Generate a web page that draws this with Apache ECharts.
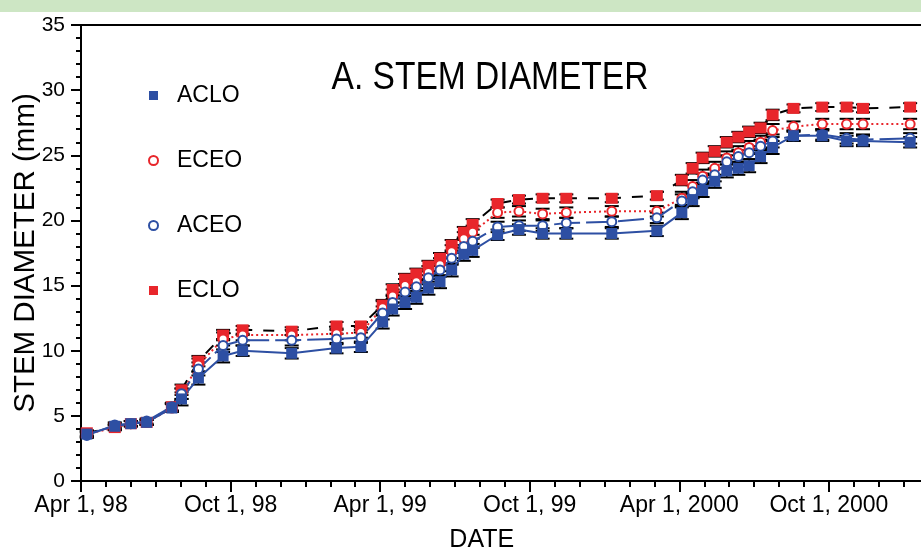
<!DOCTYPE html>
<html><head><meta charset="utf-8">
<script src="https://cdn.jsdelivr.net/npm/echarts@6/dist/echarts.min.js"></script>
<style>html,body{margin:0;padding:0;background:#fff}#c{width:921px;height:552px}</style>
</head><body><div id="c"></div>
<script>
// ---- data ----
const dates = ['1998-04-08','1998-05-12','1998-06-01','1998-06-20','1998-07-21','1998-08-02','1998-08-23','1998-09-22','1998-10-16','1998-12-15',
 '1999-02-08','1999-03-08','1999-04-04','1999-04-16','1999-05-01','1999-05-15','1999-05-30','1999-06-13','1999-06-27','1999-07-12',
 '1999-07-23','1999-08-23','1999-09-18','1999-10-17','1999-11-15','2000-01-10','2000-03-04','2000-04-04','2000-04-17','2000-04-29',
 '2000-05-14','2000-05-29','2000-06-12','2000-06-25','2000-07-09','2000-07-24','2000-08-19','2000-09-23','2000-10-23','2000-11-12','2001-01-09'];
const tickLabels = ['Apr 1, 98','Oct 1, 98','Apr 1, 99','Oct 1, 99','Apr 1, 2000','Oct 1, 2000'];
const seriesNames = ['ACLO','ECEO','ACEO','ECLO'];
const ECLO = [3.7,4.1,4.4,4.5,5.7,7.0,9.2,11.2,11.6,11.5, 11.9,11.9,13.5,14.7,15.5,15.9,16.5,17.1,18.1,19.1, 19.7,21.3,21.6,21.7,21.7,21.7,21.9,23.1,24.0,24.8, 25.3,26.0,26.4,26.8,27.1,28.1,28.6,28.7,28.7,28.6,28.7];
const ECEO = [3.6,4.1,4.4,4.5,5.6,6.7,8.9,10.9,11.2,11.2, 11.3,11.4,13.3,14.2,15.0,15.3,16.0,16.6,17.6,18.6, 19.1,20.6,20.7,20.5,20.6,20.7,20.7,21.7,22.6,23.4, 24.0,24.8,25.2,25.6,26.0,26.9,27.2,27.4,27.4,27.4,27.4];
const ACEO = [3.5,4.3,4.4,4.6,5.7,6.7,8.6,10.4,10.8,10.8, 10.9,11.0,12.9,13.7,14.5,14.9,15.6,16.2,17.1,18.0, 18.4,19.5,19.6,19.6,19.8,19.9,20.2,21.5,22.2,23.1, 23.5,24.5,24.9,25.2,25.7,26.1,26.5,26.6,26.3,26.2,26.3];
const ACLO = [3.6,4.2,4.4,4.5,5.6,6.3,7.9,9.6,10.0,9.8, 10.2,10.3,12.2,13.2,13.7,14.1,14.8,15.3,16.2,17.4, 17.7,18.9,19.3,19.0,19.0,19.0,19.2,20.6,21.6,22.3, 23.0,23.8,24.0,24.2,24.9,25.6,26.5,26.5,26.1,26.1,26.0];
const errECLO = [0.2,0.2,0.2,0.2,0.3,0.4,0.4,0.4,0.3,0.3, 0.3,0.3,0.4,0.4,0.4,0.4,0.4,0.4,0.4,0.4, 0.4,0.3,0.3,0.3,0.3,0.3,0.3,0.4,0.4,0.4, 0.4,0.4,0.4,0.4,0.4,0.4,0.3,0.3,0.3,0.3,0.3];
const errECEO = [0.2,0.2,0.2,0.2,0.3,0.4,0.5,0.5,0.4,0.4, 0.4,0.4,0.5,0.5,0.5,0.5,0.5,0.5,0.5,0.5, 0.5,0.4,0.4,0.4,0.4,0.4,0.4,0.5,0.5,0.5, 0.5,0.5,0.5,0.5,0.5,0.5,0.4,0.4,0.4,0.4,0.4];
const errACEO = [0.2,0.2,0.2,0.2,0.3,0.4,0.5,0.5,0.4,0.4, 0.4,0.4,0.5,0.5,0.5,0.5,0.5,0.5,0.5,0.5, 0.5,0.4,0.4,0.4,0.4,0.4,0.4,0.5,0.5,0.5, 0.5,0.5,0.5,0.5,0.5,0.5,0.4,0.4,0.4,0.4,0.4];
const errACLO = [0.2,0.2,0.2,0.2,0.3,0.5,0.5,0.5,0.4,0.4, 0.4,0.4,0.5,0.5,0.5,0.5,0.5,0.5,0.5,0.5, 0.5,0.4,0.4,0.4,0.4,0.4,0.4,0.5,0.5,0.5, 0.5,0.5,0.5,0.5,0.5,0.5,0.4,0.4,0.4,0.4,0.4];

// ---- helpers ----
function monthsSince(ds) { // months since Apr 1, 1998
  const [y, m, d] = ds.split('-').map(Number);
  const dim = new Date(y, m, 0).getDate();
  return (y - 1998) * 12 + (m - 4) + (d - 1) / dim;
}
const xs = dates.map(monthsSince);
const pts = arr => arr.map((v, i) => [xs[i], v]);
const bars = (arr, err) => arr.map((v, i) => [xs[i], v - err[i], v + err[i]]);

const RED = '#e8262b', BLUE = '#2d4fa3';
const FONT = "'Liberation Sans', Arial, sans-serif";

function errItem(params, api) {
  const x = api.value(0), lo = api.value(1), hi = api.value(2);
  const a = api.coord([x, lo]), b = api.coord([x, hi]);
  const w = 7;
  return { type: 'group', children: [
    { type: 'line', shape: { x1: a[0], y1: a[1], x2: b[0], y2: b[1] }, style: { stroke: '#000', lineWidth: 1.5 } },
    { type: 'line', shape: { x1: a[0] - w, y1: a[1], x2: a[0] + w, y2: a[1] }, style: { stroke: '#000', lineWidth: 2 } },
    { type: 'line', shape: { x1: b[0] - w, y1: b[1], x2: b[0] + w, y2: b[1] }, style: { stroke: '#000', lineWidth: 2 } }
  ]};
}
function errSeries(arr, err) {
  return { type: 'custom', renderItem: errItem, data: bars(arr, err), encode: { x: 0, y: [1, 2] }, z: 1, silent: true };
}

const chart = echarts.init(document.getElementById('c'), null, { renderer: 'canvas' });
chart.setOption({
  animation: false,
  backgroundColor: '#fff',
  graphic: [
    { type: 'rect', shape: { x: 0, y: 0, width: 921, height: 12 }, style: { fill: '#cde6c4' }, z: -10 },
    { type: 'text', x: 490, y: 78, scaleX: 0.86, style: { text: 'A. STEM DIAMETER', font: "39px 'Liberation Sans', Arial", fill: '#000', textAlign: 'center', textVerticalAlign: 'middle' }, z: 10 }
  ],
  grid: { left: 81, top: 25, right: -57.5, bottom: 71, show: true, borderColor: '#000', borderWidth: 2,
          outerBoundsMode: 'none', containLabel: false },
  legend: {
    orient: 'vertical', left: 148, top: 84, padding: 0, itemGap: 42, itemWidth: 9, itemHeight: 9,
    textStyle: { fontSize: 23, fontFamily: FONT, color: '#000', padding: [0, 0, 0, 14] },
    data: [
      { name: 'ACLO', icon: 'rect' },
      { name: 'ECEO', icon: 'emptyCircle' },
      { name: 'ACEO', icon: 'emptyCircle' },
      { name: 'ECLO', icon: 'rect' }
    ]
  },
  xAxis: {
    type: 'value', min: 0, max: 36, interval: 6,
    name: 'DATE', nameLocation: 'middle', nameGap: 47, nameMoveOverlap: false,
    nameTextStyle: { fontSize: 25, fontFamily: FONT, color: '#000', padding: [0, 96, 0, 0] },
    axisLine: { lineStyle: { color: '#000', width: 2 } },
    axisTick: { length: 11, lineStyle: { color: '#000', width: 2 } },
    minorTick: { show: true, splitNumber: 6, length: 6, lineStyle: { color: '#000', width: 2 } },
    splitLine: { show: false },
    axisLabel: { fontSize: 23, fontFamily: FONT, color: '#000', margin: 13,
      formatter: v => (Math.abs(v / 6 - Math.round(v / 6)) < 1e-6 ? (tickLabels[Math.round(v / 6)] || '') : '') }
  },
  yAxis: {
    type: 'value', min: 0, max: 35, interval: 5,
    name: 'STEM DIAMETER (mm)', nameLocation: 'middle', nameGap: 40, nameMoveOverlap: false,
    nameTextStyle: { fontSize: 29.5, fontFamily: FONT, color: '#000' },
    axisLine: { show: true, lineStyle: { color: '#000', width: 2 } },
    axisTick: { show: true, length: 10, lineStyle: { color: '#000', width: 2 } },
    minorTick: { show: true, splitNumber: 5, length: 5, lineStyle: { color: '#000', width: 2 } },
    splitLine: { show: false },
    axisLabel: { fontSize: 21, fontFamily: FONT, color: '#000', margin: 16 }
  },
  series: [
    errSeries(ECLO, errECLO), errSeries(ECEO, errECEO), errSeries(ACEO, errACEO), errSeries(ACLO, errACLO),
    { name: 'ECLO', type: 'line', data: pts(ECLO), z: 3, symbol: 'rect', symbolSize: [12, 11],
      itemStyle: { color: RED }, lineStyle: { color: '#000', width: 2, type: [11, 11] } },
    { name: 'ECEO', type: 'line', data: pts(ECEO), z: 3, symbol: 'emptyCircle', symbolSize: 9,
      itemStyle: { color: RED, borderWidth: 1.8 }, lineStyle: { color: RED, width: 2, type: [2, 3] } },
    { name: 'ACEO', type: 'line', data: pts(ACEO), z: 3, symbol: 'emptyCircle', symbolSize: 9,
      itemStyle: { color: BLUE, borderWidth: 1.8 }, lineStyle: { color: BLUE, width: 2, type: [26, 6] } },
    { name: 'ACLO', type: 'line', data: pts(ACLO), z: 3, symbol: 'rect', symbolSize: 11,
      itemStyle: { color: BLUE }, lineStyle: { color: BLUE, width: 2 } }
  ]
});
</script></body></html>
